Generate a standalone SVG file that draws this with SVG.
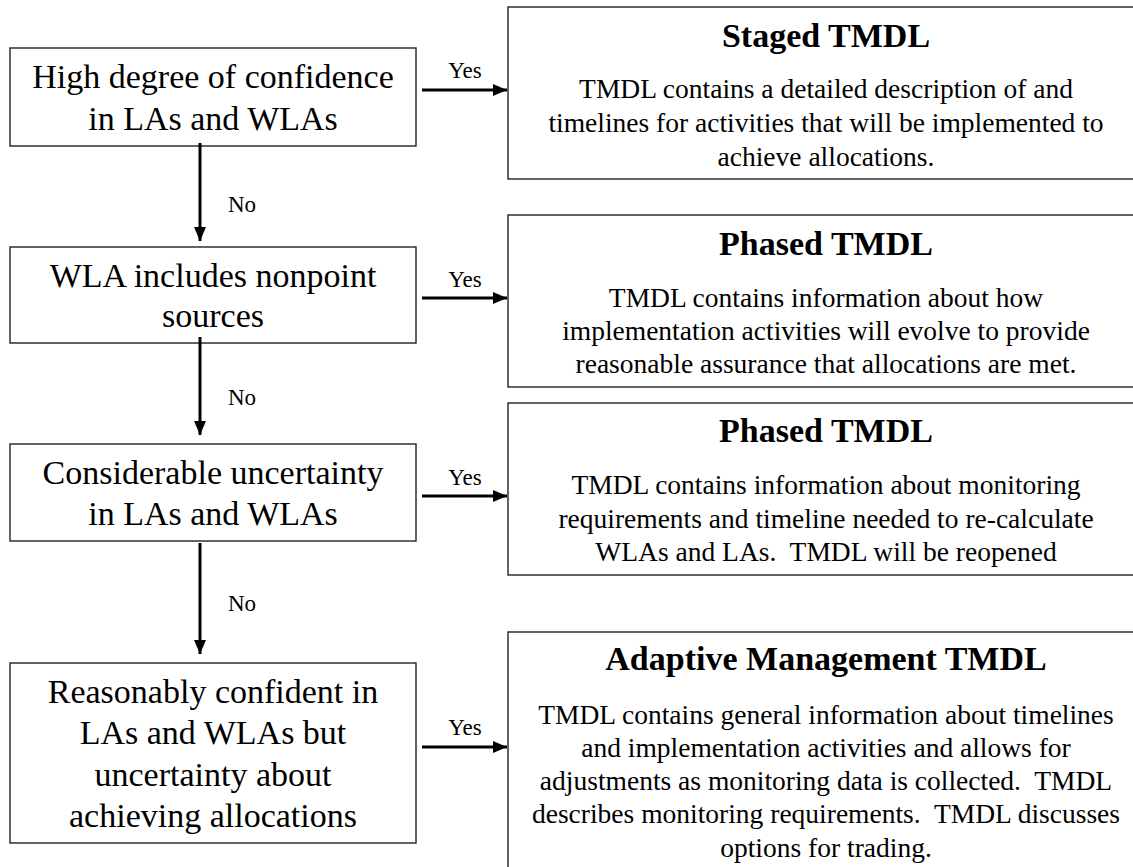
<svg xmlns="http://www.w3.org/2000/svg" width="1133" height="867" viewBox="0 0 1133 867">
<defs>
<marker id="ah" markerUnits="userSpaceOnUse" markerWidth="14" markerHeight="12" refX="14" refY="6" orient="auto">
<path d="M0,0 L14,6 L0,12 z" fill="#000"/>
</marker>
</defs>
<rect width="1133" height="867" fill="#fff"/>
<g id="q1"><rect fill="#fff" stroke="#222" stroke-width="1.4" x="10" y="48" width="406" height="98"/>
<text font-family="Times New Roman" font-size="34" text-anchor="middle" x="213" y="88">High degree of confidence</text>
<text font-family="Times New Roman" font-size="34" text-anchor="middle" x="213" y="130">in LAs and WLAs</text></g>
<g id="q2"><rect fill="#fff" stroke="#222" stroke-width="1.4" x="10" y="247" width="406" height="96"/>
<text font-family="Times New Roman" font-size="34" text-anchor="middle" x="213" y="287">WLA includes nonpoint</text>
<text font-family="Times New Roman" font-size="34" text-anchor="middle" x="213" y="327">sources</text></g>
<g id="q3"><rect fill="#fff" stroke="#222" stroke-width="1.4" x="10" y="444" width="406" height="97"/>
<text font-family="Times New Roman" font-size="34" text-anchor="middle" x="213" y="484">Considerable uncertainty</text>
<text font-family="Times New Roman" font-size="34" text-anchor="middle" x="213" y="525">in LAs and WLAs</text></g>
<g id="q4"><rect fill="#fff" stroke="#222" stroke-width="1.4" x="10" y="663" width="406" height="180"/>
<text font-family="Times New Roman" font-size="34" text-anchor="middle" x="213" y="703">Reasonably confident in</text>
<text font-family="Times New Roman" font-size="34" text-anchor="middle" x="213" y="744">LAs and WLAs but</text>
<text font-family="Times New Roman" font-size="34" text-anchor="middle" x="213" y="786">uncertainty about</text>
<text font-family="Times New Roman" font-size="34" text-anchor="middle" x="213" y="827">achieving allocations</text></g>
<g id="r1"><rect fill="#fff" stroke="#222" stroke-width="1.4" x="508" y="7" width="640" height="172"/>
<text font-family="Times New Roman" font-size="34" font-weight="bold" text-anchor="middle" x="826" y="47">Staged TMDL</text>
<text font-family="Times New Roman" font-size="27.5" text-anchor="middle" x="826" y="98">TMDL contains a detailed description of and</text>
<text font-family="Times New Roman" font-size="27.5" text-anchor="middle" x="826" y="132">timelines for activities that will be implemented to</text>
<text font-family="Times New Roman" font-size="27.5" text-anchor="middle" x="826" y="166">achieve allocations.</text></g>
<g id="r2"><rect fill="#fff" stroke="#222" stroke-width="1.4" x="508" y="215" width="640" height="172"/>
<text font-family="Times New Roman" font-size="34" font-weight="bold" text-anchor="middle" x="826" y="255">Phased TMDL</text>
<text font-family="Times New Roman" font-size="27.5" text-anchor="middle" x="826" y="307">TMDL contains information about how</text>
<text font-family="Times New Roman" font-size="27.5" text-anchor="middle" x="826" y="340">implementation activities will evolve to provide</text>
<text font-family="Times New Roman" font-size="27.5" text-anchor="middle" x="826" y="373">reasonable assurance that allocations are met.</text></g>
<g id="r3"><rect fill="#fff" stroke="#222" stroke-width="1.4" x="508" y="403" width="640" height="172"/>
<text font-family="Times New Roman" font-size="34" font-weight="bold" text-anchor="middle" x="826" y="442">Phased TMDL</text>
<text font-family="Times New Roman" font-size="27.5" text-anchor="middle" x="826" y="494">TMDL contains information about monitoring</text>
<text font-family="Times New Roman" font-size="27.5" text-anchor="middle" x="826" y="528">requirements and timeline needed to re-calculate</text>
<text font-family="Times New Roman" font-size="27.5" text-anchor="middle" x="826" y="561" xml:space="preserve">WLAs and LAs.  TMDL will be reopened</text></g>
<g id="r4"><rect fill="#fff" stroke="#222" stroke-width="1.4" x="508" y="632" width="640" height="260"/>
<text font-family="Times New Roman" font-size="34" font-weight="bold" text-anchor="middle" x="826" y="670">Adaptive Management TMDL</text>
<text font-family="Times New Roman" font-size="27.5" text-anchor="middle" x="826" y="724">TMDL contains general information about timelines</text>
<text font-family="Times New Roman" font-size="27.5" text-anchor="middle" x="826" y="757">and implementation activities and allows for</text>
<text font-family="Times New Roman" font-size="27.5" text-anchor="middle" x="826" y="790" xml:space="preserve">adjustments as monitoring data is collected.  TMDL</text>
<text font-family="Times New Roman" font-size="27.5" text-anchor="middle" x="826" y="823" xml:space="preserve">describes monitoring requirements.  TMDL discusses</text>
<text font-family="Times New Roman" font-size="27.5" text-anchor="middle" x="826" y="857">options for trading.</text></g>
<g id="connectors" stroke="#000" stroke-width="3" fill="none">
<line x1="200" y1="143" x2="200" y2="241" marker-end="url(#ah)"/>
<line x1="200" y1="337" x2="200" y2="435" marker-end="url(#ah)"/>
<line x1="200" y1="543" x2="200" y2="654" marker-end="url(#ah)"/>
<line x1="422" y1="90" x2="507" y2="90" marker-end="url(#ah)"/>
<line x1="422" y1="298" x2="507" y2="298" marker-end="url(#ah)"/>
<line x1="422" y1="496" x2="507" y2="496" marker-end="url(#ah)"/>
<line x1="422" y1="747" x2="507" y2="747" marker-end="url(#ah)"/>
<text stroke="none" fill="#000" font-family="Times New Roman" font-size="23" x="228" y="212">No</text>
<text stroke="none" fill="#000" font-family="Times New Roman" font-size="23" x="228" y="405">No</text>
<text stroke="none" fill="#000" font-family="Times New Roman" font-size="23" x="228" y="611">No</text>
<text stroke="none" fill="#000" font-family="Times New Roman" font-size="23" x="465" y="78" text-anchor="middle">Yes</text>
<text stroke="none" fill="#000" font-family="Times New Roman" font-size="23" x="465" y="287" text-anchor="middle">Yes</text>
<text stroke="none" fill="#000" font-family="Times New Roman" font-size="23" x="465" y="485" text-anchor="middle">Yes</text>
<text stroke="none" fill="#000" font-family="Times New Roman" font-size="23" x="465" y="735" text-anchor="middle">Yes</text>
</g>
</svg>
